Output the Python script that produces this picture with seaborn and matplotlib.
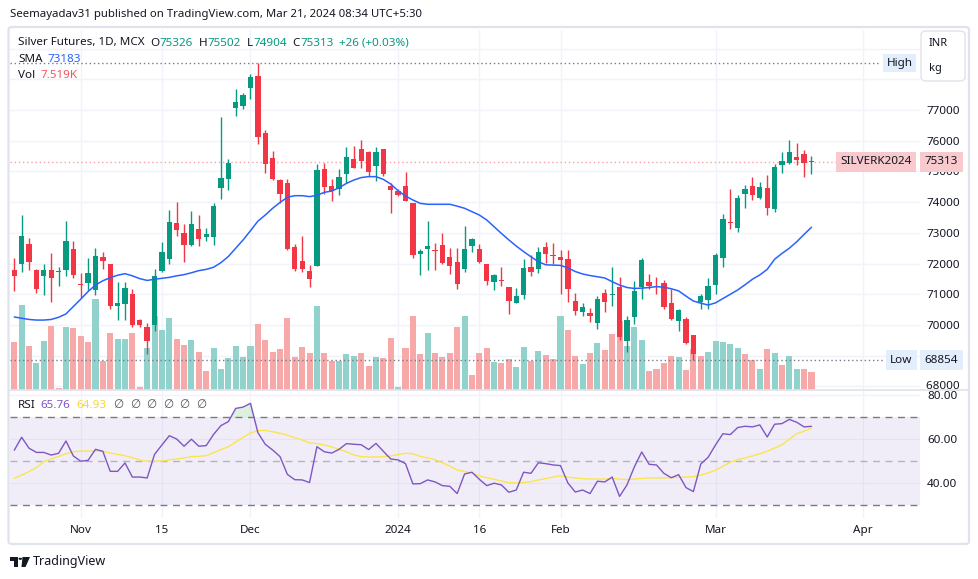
import matplotlib
matplotlib.use("Agg")
import numpy as np
import pandas as pd
import matplotlib.pyplot as plt
import matplotlib.transforms as mtransforms
import seaborn as sns
from matplotlib.patches import FancyBboxPatch, Polygon, Circle

# daily candles, Oct 19 2023 .. Mar 20 2024 (bar index = trading day)
opens = [71790, 71970, 72640, 71790, 71600, 71790, 71730, 71790, 72480, 71340,
         71380, 71140, 72220, 71990, 70620, 70680, 71010, 70170, 69940, 70000,
         71760, 72150, 73320, 73000, 72610, 73130, 72870, 72870, 74460, 74750,
         77070, 77130, 77720, 78110, 76250, 75440, 74720, 74620, 72540, 72090,
         71760, 71920, 75080, 74530, 74430, 74920, 75400, 75730, 75630, 75180,
         75730, 74530, 74360, 74530, 73970, 72310, 72470, 72440, 72600, 72210,
         72050, 71820, 72570, 72470, 71990, 71400, 71470, 71240, 70720, 70980,
         71890, 71820, 72540, 72280, 72210, 72150, 70780, 70420, 70390, 70070,
         71040, 70980, 71240, 69480, 70260, 71240, 71400, 71270, 71370, 70720,
         70130, 70200, 69670, 70750, 70810, 71300, 72180, 73350, 73160, 74270,
         74530, 74130, 74460, 73780, 75210, 75270, 75470, 75570, 75300]
highs = [72180, 73580, 72830, 71820, 71990, 72360, 71890, 73390, 72740, 71680,
         72180, 72510, 72380, 71990, 71400, 71400, 71170, 70200, 70070, 71820,
         72700, 73740, 74000, 73290, 73710, 73580, 73160, 73970, 76770, 75410,
         77680, 77550, 78170, 78530, 76350, 75670, 74750, 74750, 72640, 72900,
         71950, 75240, 75280, 74750, 75080, 75800, 75830, 76020, 75670, 75800,
         75730, 74620, 74430, 74980, 73970, 72470, 73390, 72670, 73000, 72510,
         72510, 73220, 72830, 72640, 71990, 71660, 71890, 71240, 71200, 72150,
         72280, 72540, 72700, 72670, 72440, 72440, 71040, 70720, 70550, 70940,
         71170, 71890, 71560, 70290, 71430, 72180, 71660, 71560, 71470, 71170,
         70520, 70260, 69670, 71010, 71530, 72340, 73610, 74430, 74230, 74560,
         74820, 74660, 74880, 75240, 75630, 76020, 75930, 75700, 75502]
lows = [71110, 71730, 71790, 71030, 70980, 70750, 71270, 71600, 71530, 70880,
        71140, 70980, 71820, 70520, 70170, 70170, 69940, 69940, 69060, 69800,
        71730, 71990, 72900, 72050, 72570, 72570, 72740, 72610, 74100, 74400,
        76810, 77030, 77360, 75890, 74950, 74720, 73970, 72440, 71760, 71730,
        71240, 71920, 74270, 74040, 74230, 74620, 75110, 75110, 74850, 74690,
        74850, 73650, 74200, 74040, 72180, 71630, 71790, 71790, 71990, 71660,
        71170, 71730, 72380, 72020, 71300, 71140, 71270, 70360, 70720, 70850,
        71600, 71690, 72020, 71990, 71010, 70750, 70330, 70290, 70100, 69870,
        70420, 70620, 69510, 69120, 70030, 70850, 71170, 71010, 70520, 70160,
        69800, 69380, 68854, 70520, 70520, 71010, 71890, 73130, 73030, 73810,
        74070, 74100, 73580, 73680, 74950, 75240, 75210, 74820, 74904]
closes = [71600, 72900, 72050, 71170, 71790, 71530, 71760, 72740, 71630, 71290,
          71690, 72250, 72090, 70620, 70720, 71210, 70000, 70000, 69480, 71600,
          72380, 73360, 73090, 72610, 73290, 72800, 72960, 73870, 74790, 75280,
          77260, 77490, 78070, 76120, 75240, 74750, 74270, 72480, 71820, 71820,
          71500, 75050, 74490, 74360, 74820, 75470, 75110, 75340, 74980, 75630,
          74920, 74400, 74230, 74040, 72280, 72410, 72570, 72410, 72020, 71920,
          71330, 72470, 72800, 72050, 71430, 71630, 71430, 70780, 70940, 71860,
          71730, 72380, 72310, 72250, 72120, 71170, 70460, 70590, 70290, 70850,
          70750, 71010, 69610, 70160, 71110, 72120, 71270, 71240, 70590, 70200,
          70490, 69410, 69060, 70940, 71270, 72280, 73450, 73320, 74130, 74430,
          74230, 74490, 73810, 75140, 75340, 75630, 75370, 75270, 75313]
volume = [20200, 35500, 18500, 11400, 20600, 26900, 700, 26500, 26000, 22700,
          20200, 38200, 12200, 24000, 21400, 21400, 24000, 1400, 17700, 30900,
          25100, 30200, 21400, 18900, 20900, 15900, 8100, 17700, 8900, 13500,
          18500, 13900, 18500, 27700, 21000, 16000, 17300, 30200, 13900, 18100,
          15600, 35100, 15600, 12200, 12200, 15000, 14200, 15600, 10000, 13800,
          13400, 21700, 1400, 17600, 30900, 15000, 23800, 15600, 13800, 15600,
          26300, 30900, 6300, 15600, 17600, 11700, 11300, 13000, 9600, 18000,
          12100, 16300, 14600, 13000, 30900, 25100, 14200, 10900, 15500, 19600,
          16700, 23400, 28800, 18400, 26300, 20900, 7900, 8800, 11300, 14200,
          13800, 8400, 17100, 14200, 15900, 20500, 20100, 19200, 17600, 15000,
          12500, 8800, 17100, 15500, 10500, 14200, 8800, 8800, 7519]
volume_up = [0, 1, 0, 1, 1, 0, 0, 1, 0, 0, 0, 1, 0, 0, 1, 1, 0, 0, 1, 1,
             1, 1, 0, 0, 1, 0, 0, 1, 1, 1, 1, 1, 1, 0, 0, 0, 0, 0, 0, 0,
             0, 1, 0, 0, 1, 1, 1, 0, 0, 1, 0, 0, 1, 0, 0, 0, 1, 0, 0, 0,
             0, 1, 0, 0, 0, 1, 0, 0, 1, 1, 0, 1, 0, 0, 1, 0, 0, 1, 0, 1,
             0, 0, 0, 1, 1, 1, 0, 0, 0, 0, 1, 0, 0, 0, 1, 1, 1, 1, 1, 0,
             0, 1, 0, 1, 0, 1, 1, 0, 0]
sma = [70260, 70220, 70180, 70160, 70160, 70180, 70250, 70360, 70600, 70840,
       71090, 71300, 71440, 71540, 71620, 71670, 71600, 71510, 71450, 71490,
       71520, 71550, 71600, 71640, 71700, 71770, 71810, 71880, 72030, 72230,
       72500, 72770, 73070, 73380, 73580, 73800, 73990, 74160, 74210, 74210,
       74180, 74220, 74320, 74360, 74470, 74610, 74720, 74800, 74830, 74830,
       74740, 74590, 74370, 74200, 74070, 73960, 73930, 73930, 73930, 73930,
       73870, 73800, 73690, 73580, 73420, 73200, 72980, 72770, 72570, 72390,
       72220, 72060, 71960, 71950, 71940, 71860, 71740, 71660, 71610, 71570,
       71530, 71410, 71300, 71220, 71190, 71200, 71220, 71250, 71230, 71180,
       71110, 70940, 70780, 70710, 70650, 70720, 70860, 71000, 71140, 71310,
       71490, 71630, 71810, 72140, 72330, 72500, 72710, 72950, 73183]
rsi = [54.9, 60.8, 55.8, 53.9, 53.9, 52.7, 53.5, 59.1, 52.3, 49.9,
       50.3, 55.3, 54.4, 45.3, 45.3, 49.1, 42.7, 42.7, 42.3, 53.0,
       57.3, 61.5, 60.0, 56.7, 59.9, 56.7, 57.0, 62.1, 66.1, 67.9,
       73.9, 74.5, 76.2, 62.9, 57.6, 55.0, 52.0, 43.9, 41.5, 41.4,
       40.2, 56.5, 54.2, 53.6, 55.3, 57.9, 57.6, 57.4, 55.2, 58.0,
       54.4, 50.9, 50.5, 48.8, 39.6, 39.7, 41.4, 40.5, 38.8, 38.5,
       35.2, 44.1, 44.9, 41.7, 38.8, 39.9, 39.1, 35.8, 36.8, 44.9,
       44.4, 49.2, 48.8, 48.2, 47.9, 40.0, 35.9, 36.8, 35.2, 40.8,
       40.5, 42.7, 33.9, 39.1, 47.3, 54.1, 48.5, 48.2, 44.4, 42.4,
       43.8, 37.9, 36.1, 48.6, 51.7, 57.3, 62.4, 62.0, 65.2, 65.8,
       65.5, 66.4, 60.9, 66.7, 67.0, 68.9, 67.6, 65.5, 65.76]
rsi_ma = [42.1, 43.6, 45.2, 47.0, 49.7, 50.9, 52.1, 53.3, 54.2, 54.5,
          54.5, 54.5, 54.4, 53.6, 53.0, 52.4, 51.5, 50.5, 49.9, 49.9,
          50.0, 50.5, 50.9, 51.4, 52.0, 52.1, 52.4, 53.8, 55.2, 56.5,
          58.6, 60.8, 62.7, 63.8, 63.9, 63.3, 62.6, 61.7, 60.6, 59.6,
          58.2, 57.9, 57.3, 56.4, 55.3, 54.2, 52.7, 52.0, 51.8, 51.8,
          52.0, 52.3, 52.9, 53.5, 53.3, 52.1, 51.4, 50.6, 49.2, 47.7,
          45.9, 45.2, 44.6, 43.2, 42.4, 41.7, 40.9, 40.2, 40.0, 40.2,
          40.6, 41.4, 42.0, 42.7, 43.3, 42.7, 42.3, 42.0, 41.8, 41.8,
          41.8, 42.0, 41.8, 41.5, 41.8, 42.1, 42.3, 42.3, 42.3, 42.4,
          42.6, 42.7, 42.9, 43.6, 44.6, 45.8, 47.6, 49.4, 50.6, 51.4,
          52.3, 53.3, 54.4, 55.9, 57.4, 59.9, 62.4, 63.6, 64.93]

tick_pos = [9, 20, 32, 52, 63, 74, 95, 115]
tick_labels = ['Nov', '15', 'Dec', '2024', '16', 'Feb', 'Mar', 'Apr']
price_ticks = list(range(68000, 80000, 1000))

df = pd.DataFrame({'open': opens, 'high': highs, 'low': lows, 'close': closes,
                   'volume': volume, 'vol_up': volume_up, 'sma': sma,
                   'rsi': rsi, 'rsi_ma': rsi_ma})
df['i'] = np.arange(len(df))

sns.set_style("white")
plt.rcParams['font.family'] = ['Noto Sans', 'DejaVu Sans']

GREEN = '#089981'
RED = '#F23645'
TXT = '#131722'
GRID = '#F0F3FA'
BORDER = '#E0E3EB'
FS = 8.4

W, H = 979, 579
fig = plt.figure(figsize=(W / 100, H / 100), dpi=100)
fig.patch.set_facecolor('white')


def fx(px):
    return px / W


def fy(py):
    return 1 - py / H


def rect(l, t, r, b):
    return [fx(l), fy(b), (r - l) / W, (b - t) / H]


XLIM = (-0.58, 122.7)
price_rect = rect(10, 30, 920, 390)
axg = fig.add_axes(price_rect)                      # grid + price scale
axv = fig.add_axes(price_rect, facecolor='none')    # volume
ax = fig.add_axes(price_rect, facecolor='none')     # candles
axr = fig.add_axes(rect(10, 390, 920, 518))         # RSI

for a in (axg, axv, ax):
    a.set_xlim(*XLIM)
for a in (axg, ax):
    a.set_ylim(67883, 79605)
axv.set_ylim(0, 150480)

# grid and price scale: 69000 sits under the Low box, 78000+ under the unit box
axg.set_xticks(tick_pos)
axg.set_yticks(price_ticks)
axg.set_yticklabels([str(p) if 70000 <= p <= 77000 else '' for p in price_ticks])
axg.yaxis.tick_right()
axg.tick_params(axis='y', length=0, pad=5, labelsize=FS, labelcolor=TXT)
axg.tick_params(axis='x', length=0, labelbottom=False)
axg.grid(True, color=GRID, lw=1)
for s in axg.spines.values():
    s.set_visible(False)

# 68000 is cut by the pane border, as on the screen
bt_g = mtransforms.blended_transform_factory(axg.transAxes, axg.transData)
t68 = axg.text(1.0, price_ticks[0], '  ' + str(price_ticks[0]), transform=bt_g,
               ha='left', va='center', fontsize=FS, color=TXT, clip_on=False)
t68.set_clip_box(mtransforms.TransformedBbox(
    mtransforms.Bbox([[fx(918), fy(389.5)], [fx(975), fy(300)]]), fig.transFigure))
t68.set_clip_on(True)

# volume
vcol = np.where(df['vol_up'] == 1, '#92D2CC', '#F7A9A9')
axv.bar(df['i'], df['volume'], width=0.82, color=vcol, linewidth=0)
axv.axis('off')

# candles
up = df['close'] >= df['open']
ccol = np.where(up, GREEN, RED)
ax.vlines(df['i'], df['low'], df['high'], color=ccol, lw=1, zorder=3)
body = np.maximum((df['close'] - df['open']).abs(), 30)
ax.bar(df['i'], body, bottom=np.minimum(df['open'], df['close']), width=0.72,
       color=ccol, linewidth=0, zorder=4)
sns.lineplot(data=df, x='i', y='sma', ax=ax, color='#2962FF', lw=1.1, zorder=5)
ax.axis('off')

hi = df['high'].max()
lo = df['low'].min()
last = df['close'].iloc[-1]
ax.hlines(hi, XLIM[0], 117.3, color='#787B86', lw=1, linestyles=(0, (1, 2)), zorder=2)
ax.hlines(lo, XLIM[0], 117.9, color='#787B86', lw=1, linestyles=(0, (1, 2)), zorder=2)
ax.hlines(last, XLIM[0], 111.9, color='#F7A1A8', lw=1, linestyles=(0, (1, 2)), zorder=2)

bt = mtransforms.blended_transform_factory(ax.transAxes, ax.transData)
PINK = '#F9CACD'
BLUE_BG = '#E3EEFC'
ax.text(0.991, last, 'SILVERK2024', transform=bt, ha='right', va='center', fontsize=FS,
        color=TXT, bbox=dict(fc=PINK, ec='none', boxstyle='square,pad=0.38'), clip_on=False, zorder=10)
ax.text(1.0235, last, f'{last:.0f}', transform=bt, ha='center', va='center', fontsize=FS,
        color=TXT, bbox=dict(fc=PINK, ec='none', boxstyle='square,pad=0.38'), clip_on=False, zorder=10)
ax.text(0.992, hi, 'High', transform=bt, ha='right', va='center', fontsize=FS,
        color=TXT, bbox=dict(fc=BLUE_BG, ec='none', boxstyle='square,pad=0.3'), clip_on=False, zorder=10)
ax.text(0.992, lo, 'Low', transform=bt, ha='right', va='center', fontsize=FS,
        color=TXT, bbox=dict(fc=BLUE_BG, ec='none', boxstyle='square,pad=0.38'), clip_on=False, zorder=10)
ax.text(1.0235, lo, f'{lo:.0f}', transform=bt, ha='center', va='center', fontsize=FS,
        color=TXT, bbox=dict(fc=BLUE_BG, ec='none', boxstyle='square,pad=0.38'), clip_on=False, zorder=10)

# RSI pane
axr.set_xlim(*XLIM)
axr.set_ylim(24.09, 82.27)
axr.axhspan(30, 70, color='#7E57C2', alpha=0.1, lw=0)
for lvl, al in ((70, 1.0), (50, 0.5), (30, 1.0)):
    axr.axhline(lvl, color='#787B86', alpha=al, lw=1, dashes=(5, 4))
axr.fill_between(df['i'], df['rsi'], 70, where=df['rsi'] > 70, interpolate=True,
                 color='#C8E6C9', alpha=0.6, lw=0)
sns.lineplot(data=df, x='i', y='rsi_ma', ax=axr, color='#FBE54D', lw=1)
sns.lineplot(data=df, x='i', y='rsi', ax=axr, color='#7E57C2', lw=1)
axr.set_xlabel('')
axr.set_ylabel('')
axr.set_xticks(tick_pos)
axr.set_xticklabels(tick_labels)
for t in axr.get_xticklabels():
    if t.get_text() == '2024':
        t.set_fontweight('bold')
axr.set_yticks([40, 60, 80])
axr.set_yticklabels(['40.00', '60.00', '80.00'])
axr.yaxis.tick_right()
axr.tick_params(axis='y', length=0, pad=5, labelsize=FS, labelcolor=TXT)
axr.tick_params(axis='x', length=0, pad=5, labelsize=FS, labelcolor=TXT)
axr.grid(True, color=GRID, lw=1)
axr.set_axisbelow(True)
for s in axr.spines.values():
    s.set_visible(False)

# frame, separators
fig.patches.append(FancyBboxPatch((fx(8.5), fy(544)), (969 - 8.5) / W, (544 - 27) / H,
                                  boxstyle='round,pad=0,rounding_size=0.004',
                                  transform=fig.transFigure, fill=False, ec=BORDER, lw=1.6))
fig.add_artist(plt.Line2D([fx(9), fx(968)], [fy(390), fy(390)], color=BORDER, lw=1.2,
                          transform=fig.transFigure))
fig.patches.append(FancyBboxPatch((fx(921), fy(81)), 44 / W, 50 / H,
                                  boxstyle='round,pad=0,rounding_size=0.006',
                                  transform=fig.transFigure, fc='white', ec=BORDER, lw=1, zorder=8))
fig.text(fx(929), fy(44), 'INR', fontsize=8, color=TXT, va='center', zorder=9)
fig.text(fx(929), fy(69), 'kg', fontsize=8, color=TXT, va='center', zorder=9)

# legend texts
renderer = fig.canvas.get_renderer()


def seg_text(x0, y0, parts, size=FS):
    x = x0
    for s, c, gap in parts:
        t = fig.text(fx(x), fy(y0), s, color=c, fontsize=size, va='center', ha='left', zorder=9)
        x += t.get_window_extent(renderer=renderer).width + gap
    return x


fig.text(fx(10), fy(15), 'Seemayadav31 published on TradingView.com, Mar 21, 2024 08:34 UTC+5:30',
         fontsize=8.2, color=TXT, va='center')
seg_text(18, 43, [('Silver Futures, 1D, MCX', TXT, 6), ('O', TXT, 0), ('75326', GREEN, 6),
                  ('H', TXT, 0), ('75502', GREEN, 6), ('L', TXT, 0), ('74904', GREEN, 6),
                  ('C', TXT, 0), ('75313', GREEN, 6), ('+26 (+0.03%)', GREEN, 0)])
seg_text(18, 59, [('SMA', TXT, 5), (f'{sma[-1]}', '#2962FF', 0)])
seg_text(18, 75, [('Vol', TXT, 5), (f'{volume[-1] / 1000:.3f}K', '#F7525F', 0)])
xe = seg_text(18, 405, [('RSI', TXT, 5), (f'{rsi[-1]:.2f}', '#7E57C2', 6),
                        (f'{rsi_ma[-1]:.2f}', '#F5D63D', 7)])
for k in range(6):
    fig.text(fx(xe + k * 16.5), fy(405), '\u2205', fontsize=FS, color='#50535E',
             va='center', ha='left', family='DejaVu Sans')

# TradingView logo
fig.patches.append(Polygon([(fx(10), fy(557)), (fx(17.5), fy(557)), (fx(17.5), fy(567)),
                            (fx(14), fy(567)), (fx(14), fy(560.5)), (fx(10), fy(560.5))],
                           closed=True, transform=fig.transFigure, fc=TXT, ec='none'))
fig.patches.append(Circle((fx(20.3), fy(558.8)), 1.8 / W, transform=fig.transFigure, fc=TXT, ec='none'))
fig.patches.append(Polygon([(fx(22.5), fy(557)), (fx(30), fy(557)), (fx(25.5), fy(567)),
                            (fx(21.5), fy(567))],
                           closed=True, transform=fig.transFigure, fc=TXT, ec='none'))
fig.text(fx(33), fy(561.5), 'TradingView', fontsize=9, color=TXT, va='center')

fig.savefig('out.png', dpi=100, facecolor='white')
